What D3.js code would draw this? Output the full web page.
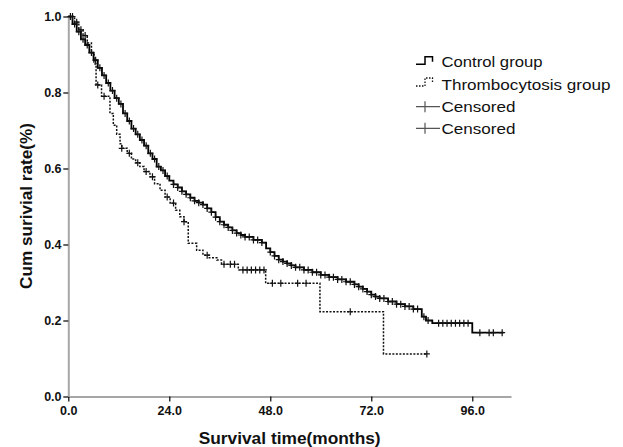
<!DOCTYPE html>
<html>
<head>
<meta charset="utf-8">
<script src="https://cdn.jsdelivr.net/npm/d3@7"></script>
<style>
  body { margin: 0; background: #fff; }
  text { font-family: Arial, "Liberation Sans", sans-serif; }
</style>
</head>
<body>
<div id="chart"></div>
<script>
// step points [months, cumulative survival]
const controlSteps = [
  [0, 1.0], [1, 0.98], [2, 0.96], [3, 0.94], [4, 0.925], [5, 0.905], [6, 0.885],
  [7, 0.865], [8, 0.845], [9, 0.825], [10, 0.805], [11, 0.785], [12, 0.77],
  [13, 0.745], [14, 0.725], [15, 0.705], [16, 0.69], [17, 0.675], [18, 0.66],
  [19, 0.64], [20, 0.625], [21, 0.605], [22, 0.595], [23, 0.58], [24, 0.568],
  [25, 0.558], [26, 0.55], [27, 0.54], [28, 0.532], [29, 0.523], [30, 0.515],
  [31, 0.51], [32, 0.505], [33, 0.495], [34, 0.485], [35, 0.472], [36, 0.46],
  [37, 0.452], [38, 0.445], [39, 0.437], [40, 0.43], [41, 0.425], [42, 0.42],
  [44, 0.412], [46, 0.405], [47, 0.39], [48, 0.38], [49, 0.37], [50, 0.36],
  [51, 0.355], [52, 0.35], [53, 0.345], [54, 0.34], [56, 0.333], [58, 0.327],
  [60, 0.32], [62, 0.314], [64, 0.308], [66, 0.302], [68, 0.295], [69, 0.289],
  [70, 0.283], [71, 0.276], [72, 0.268], [73, 0.263], [74, 0.258], [76, 0.25],
  [78, 0.243], [80, 0.237], [82, 0.23], [84, 0.21], [85, 0.2], [86.5, 0.193],
  [96, 0.168], [103.4, 0.168]
];
const thromboSteps = [
  [0, 1.0], [1.5, 0.985], [2.5, 0.965], [3.5, 0.95], [4.5, 0.93], [5.5, 0.905],
  [6.1, 0.875], [6.6, 0.82], [7.9, 0.79], [9.9, 0.745], [10.7, 0.714],
  [11.5, 0.69], [12.3, 0.665], [12.7, 0.653], [14, 0.64], [15, 0.625],
  [16, 0.615], [17, 0.605], [18, 0.592], [19.4, 0.578], [20.5, 0.56],
  [21.8, 0.543], [23, 0.525], [24.2, 0.509], [25.5, 0.49], [26.5, 0.473],
  [27.5, 0.46], [28.5, 0.403], [30.5, 0.385], [32, 0.372], [33.5, 0.365],
  [35.3, 0.359], [36.4, 0.348], [40.4, 0.333], [46.9, 0.298], [59.8, 0.223],
  [74.9, 0.112], [85.2, 0.112]
];
// censored times (months)
const controlCensored = [
  0.5, 1.5, 2.5, 3.5, 4.5, 5.5, 6.5, 7.5, 8.5, 9.5, 10.5, 11.5, 12.5, 13.5,
  14.5, 15.5, 16.5, 17.5, 18.5, 19.5, 20.5, 21.5, 22.5, 23.5, 25, 26, 27, 28,
  29, 30, 31, 32, 33, 34, 35, 36, 37, 38, 39, 40, 41, 42, 43, 44, 45, 46, 48,
  49, 50, 51, 52, 53, 54, 55, 56, 57, 58, 59, 60, 61, 62, 63, 64, 65, 66, 67,
  68, 69, 70, 71, 72, 73, 74, 75, 76, 77, 78, 79, 80, 81, 82, 83, 84.5, 85.5,
  88, 89, 90, 91, 92, 93, 94, 95, 97.8, 100, 101, 103.1
];
const thromboCensored = [
  1, 2, 3, 4, 7, 8.5, 12.7, 14.5, 16.5, 18.5, 20, 23.5, 25, 27.5, 33, 37,
  38.5, 39.5, 41.5, 42.5, 43.5, 44.5, 45.5, 46.5, 48.5, 50.5, 54.5, 56.5, 67, 85.2
];
const xTicks = [0, 24, 48, 72, 96];
const yTicks = [0, 0.2, 0.4, 0.6, 0.8, 1.0];
const legendLabels = ["Control group", "Thrombocytosis group", "Censored", "Censored"];

const width = 623, height = 447;
const margin = { top: 16.5, right: 112, bottom: 50.5, left: 68.3 };

const svg = d3.select("#chart").append("svg")
  .attr("width", width)
  .attr("height", height);

const x = d3.scaleLinear().domain([0, 105.2]).range([margin.left, width - margin.right]);
const y = d3.scaleLinear().domain([0, 1]).range([height - margin.bottom, margin.top]);

// axes
const xAxis = svg.append("g")
  .attr("transform", `translate(0,${y(0)})`)
  .call(d3.axisBottom(x).tickValues(xTicks).tickFormat(d3.format(".1f")).tickSize(5).tickSizeOuter(0));
const yAxis = svg.append("g")
  .attr("transform", `translate(${x(0)},0)`)
  .call(d3.axisLeft(y).tickValues(yTicks).tickFormat(d3.format(".1f")).tickSize(5).tickSizeOuter(0));
[xAxis, yAxis].forEach(function (g) {
  g.select(".domain").attr("stroke", "#a6a6a6").attr("stroke-width", 2);
  g.selectAll(".tick line").attr("stroke", "#000").attr("stroke-width", 1.2);
  g.selectAll(".tick text")
    .attr("fill", "#111")
    .style("font-size", "12.5px")
    .style("font-weight", "bold")
    .style("font-family", "Arial, 'Liberation Sans', sans-serif");
});
xAxis.selectAll(".tick text").attr("dy", "0.85em");
yAxis.selectAll(".tick text").attr("dx", "0.1em");

// curves
const line = d3.line()
  .x(function (d) { return x(d[0]); })
  .y(function (d) { return y(d[1]); })
  .curve(d3.curveStepAfter);

svg.append("path").datum(thromboSteps)
  .attr("fill", "none").attr("stroke", "#111")
  .attr("stroke-width", 1.5).attr("stroke-dasharray", "2,1.5")
  .attr("d", line);
svg.append("path").datum(controlSteps)
  .attr("fill", "none").attr("stroke", "#000")
  .attr("stroke-width", 1.8)
  .attr("d", line);

function survAt(steps, t) {
  let s = steps[0][1];
  steps.forEach(function (d) { if (d[0] <= t) s = d[1]; });
  return s;
}

function drawCensored(times, steps) {
  const g = svg.append("g").attr("stroke", "#111").attr("stroke-width", 1.2);
  g.selectAll("path").data(times).enter().append("path")
    .attr("d", function (t) {
      const cx = x(t), cy = y(survAt(steps, t));
      return `M${cx},${cy - 3.5}V${cy + 3.5}M${cx - 3},${cy}H${cx + 3}`;
    });
}
drawCensored(thromboCensored, thromboSteps);
drawCensored(controlCensored, controlSteps);

// axis titles
svg.append("text")
  .attr("x", (x(0) + x(105.2)) / 2)
  .attr("y", 443.5)
  .attr("text-anchor", "middle")
  .attr("textLength", 182)
  .attr("lengthAdjust", "spacingAndGlyphs")
  .style("font-size", "17px")
  .style("font-weight", "bold")
  .attr("fill", "#111")
  .text("Survival time(months)");

svg.append("text")
  .attr("transform", `translate(31.5,206) rotate(-90)`)
  .attr("text-anchor", "middle")
  .attr("textLength", 166)
  .attr("lengthAdjust", "spacingAndGlyphs")
  .style("font-size", "17px")
  .style("font-weight", "bold")
  .attr("fill", "#111")
  .text("Cum surivial rate(%)");

// legend
const legend = svg.append("g");
const rowY = [61.7, 84, 106.7, 128.3];
const labelWidths = [101, 169, 74, 74];
legendLabels.forEach(function (label, i) {
  const cy = rowY[i];
  if (i === 0) {
    legend.append("path")
      .attr("d", `M416,${cy + 2.5}H425V${cy - 5}H432.5V${cy}`)
      .attr("fill", "none").attr("stroke", "#000").attr("stroke-width", 1.5);
  } else if (i === 1) {
    legend.append("path")
      .attr("d", `M416,${cy + 2}H425V${cy - 6}H432.5V${cy - 1.5}`)
      .attr("fill", "none").attr("stroke", "#111").attr("stroke-width", 1.3)
      .attr("stroke-dasharray", "1.5,1.5");
  } else {
    legend.append("path")
      .attr("d", `M416,${cy}H440M425,${cy - 5.5}V${cy + 5.5}`)
      .attr("fill", "none").attr("stroke", "#555").attr("stroke-width", 1.2);
  }
  legend.append("text")
    .attr("x", 441.5)
    .attr("y", cy)
    .attr("dy", "0.36em")
    .attr("textLength", labelWidths[i])
    .attr("lengthAdjust", "spacingAndGlyphs")
    .style("font-size", "15.5px")
    .attr("fill", "#111")
    .text(label);
});
</script>
</body>
</html>
